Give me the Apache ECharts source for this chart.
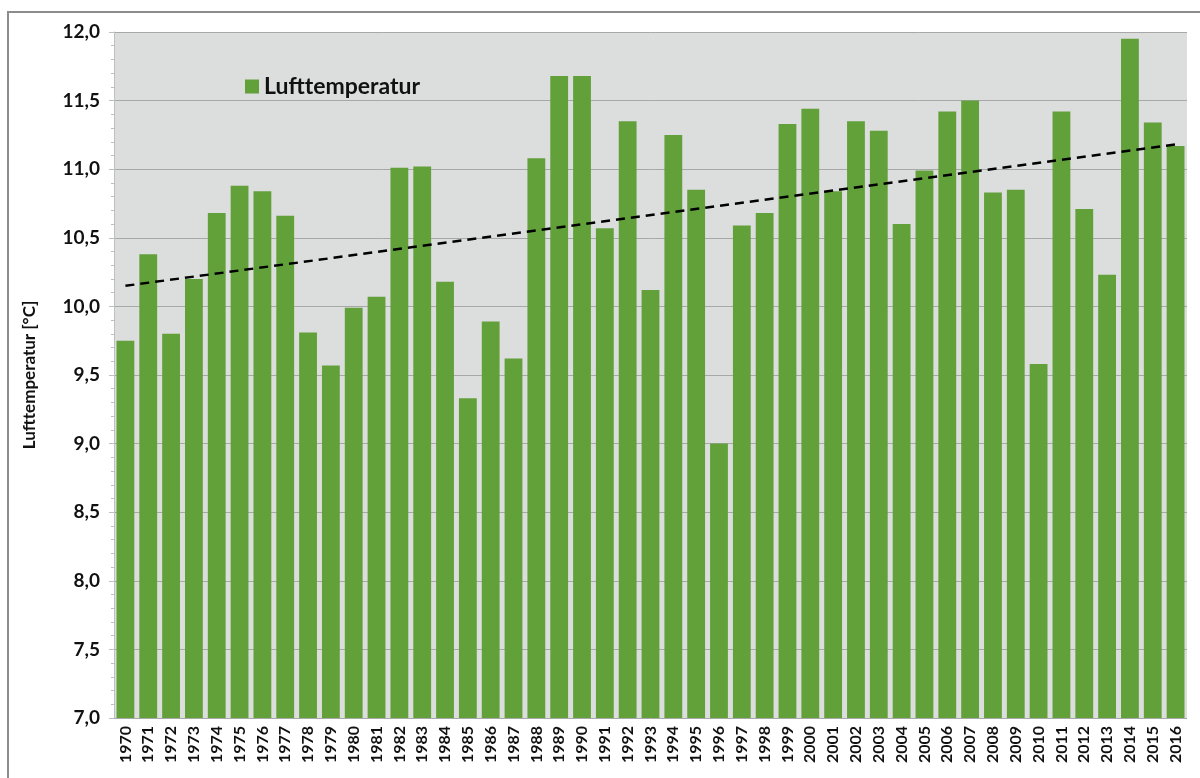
<!DOCTYPE html>
<html>
<head>
<meta charset="utf-8">
<title>Lufttemperatur 1970-2016</title>
<script src="https://cdn.jsdelivr.net/npm/echarts@6/dist/echarts.min.js"></script>
<style>
  html, body { margin: 0; padding: 0; background: #fff; }
  #chart { width: 1200px; height: 778px; }
</style>
</head>
<body>
<div id="chart"></div>
<script>
// Jahre und Jahresmittel der Lufttemperatur
const years = ['1970', '1971', '1972', '1973', '1974', '1975', '1976', '1977', '1978', '1979',
  '1980', '1981', '1982', '1983', '1984', '1985', '1986', '1987', '1988', '1989',
  '1990', '1991', '1992', '1993', '1994', '1995', '1996', '1997', '1998', '1999',
  '2000', '2001', '2002', '2003', '2004', '2005', '2006', '2007', '2008', '2009',
  '2010', '2011', '2012', '2013', '2014', '2015', '2016']

const temperatures = [9.75, 10.38, 9.80, 10.20, 10.68, 10.88, 10.84, 10.66, 9.81, 9.57,
  9.99, 10.07, 11.01, 11.02, 10.18, 9.33, 9.89, 9.62, 11.08, 11.68,
  11.68, 10.57, 11.35, 10.12, 11.25, 10.85, 9.00, 10.59, 10.68, 11.33,
  11.44, 10.84, 11.35, 11.28, 10.60, 10.99, 11.42, 11.50, 10.83, 10.85,
  9.58, 11.42, 10.71, 10.23, 11.95, 11.34, 11.17]

// linearer Trend: Anfangs- und Endpunkt
const trendYears = ['1970', '2016']
const trendValues = [10.15, 11.18]

const fontFamily = 'Lato, "Liberation Sans", sans-serif'
const fmt = v => v.toFixed(1).replace('.', ',')

const chart = echarts.init(document.getElementById('chart'))

chart.setOption({
  animation: false,
  textStyle: { fontFamily },
  graphic: [
    {
      type: 'rect',
      shape: { x: 8, y: 12, width: 1200, height: 800 },
      style: { fill: 'none', stroke: '#8c8c8c', lineWidth: 2 },
      z: 0
    }
  ],
  legend: {
    left: 240,
    top: 70,
    icon: 'rect',
    itemWidth: 14,
    itemHeight: 14,
    itemGap: 8,
    data: ['Lufttemperatur'],
    textStyle: { fontSize: 23, fontWeight: 'bold', color: '#111', fontFamily }
  },
  grid: {
    left: 114,
    right: 13,
    top: 32,
    bottom: 60,
    show: true,
    backgroundColor: '#dcdddd',
    borderWidth: 0
  },
  xAxis: {
    type: 'category',
    data: years,
    axisLine: { show: false },
    axisTick: { show: false },
    axisLabel: {
      rotate: 90,
      interval: 0,
      fontSize: 16,
      fontWeight: 'bold',
      color: '#111',
      margin: 8
    }
  },
  yAxis: {
    type: 'value',
    min: 7,
    max: 12,
    interval: 0.5,
    name: 'Lufttemperatur [°C]',
    nameLocation: 'middle',
    nameGap: 76,
    nameTextStyle: { fontSize: 17, fontWeight: 'bold', color: '#111' },
    axisLine: { show: true, lineStyle: { color: '#bfbfbf' } },
    axisTick: { show: true, length: 5, lineStyle: { color: '#bfbfbf' } },
    minorTick: { show: true, splitNumber: 5, length: 3, lineStyle: { color: '#bfbfbf' } },
    splitLine: { lineStyle: { color: '#a8a8a8', width: 1 } },
    axisLabel: {
      formatter: fmt,
      fontSize: 19,
      fontWeight: 'bold',
      color: '#111',
      margin: 14
    }
  },
  series: [
    {
      name: 'Lufttemperatur',
      type: 'bar',
      data: temperatures,
      barCategoryGap: '22%',
      itemStyle: { color: '#62a03a' }
    },
    {
      name: 'Trend',
      type: 'line',
      data: trendYears.map((y, i) => [y, trendValues[i]]),
      symbol: 'none',
      lineStyle: { color: '#000', width: 2.5, type: [9, 6] },
      z: 5
    }
  ]
})
</script>
</body>
</html>
